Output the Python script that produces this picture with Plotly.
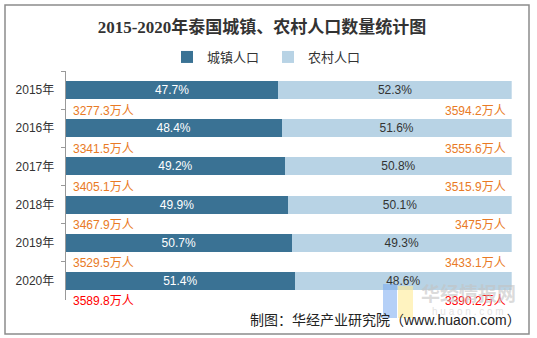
import plotly.graph_objects as go

years = ["2015年", "2016年", "2017年", "2018年", "2019年", "2020年"]
urban_pct = [47.7, 48.4, 49.2, 49.9, 50.7, 51.4]
rural_pct = [52.3, 51.6, 50.8, 50.1, 49.3, 48.6]
urban_pop = ["3277.3", "3341.5", "3405.1", "3467.9", "3529.5", "3589.8"]
rural_pop = ["3594.2", "3555.6", "3515.9", "3475", "3433.1", "3390.2"]

W, H = 537, 338
FONT = "Liberation Sans, Arial, Noto Sans CJK SC"
URBAN = "#3A7294"
RURAL = "#B8D3E5"
ORANGE = "#E97A25"

fig = go.Figure()
fig.add_trace(go.Bar(
    y=years, x=urban_pct, name="城镇人口", orientation="h",
    marker=dict(color=URBAN, line=dict(width=0)), width=0.47,
    text=[f"{v}%" for v in urban_pct], textposition="inside", constraintext="none",
    insidetextanchor="middle", textfont=dict(color="white", size=12, family=FONT),
    hoverinfo="skip",
))
fig.add_trace(go.Bar(
    y=years, x=rural_pct, name="农村人口", orientation="h",
    marker=dict(color=RURAL, line=dict(width=0)), width=0.47,
    text=[f"{v}%" for v in rural_pct], textposition="inside", constraintext="none",
    insidetextanchor="middle", textfont=dict(color="#333333", size=12, family=FONT),
    hoverinfo="skip",
))

anns = []
for i, y in enumerate(years):
    col = "#FF0000" if i == len(years) - 1 else ORANGE
    anns.append(dict(x=0, y=y, xref="x", yref="y", text=f"{urban_pop[i]}万人",
                     showarrow=False, xanchor="left", yanchor="middle",
                     xshift=5, yshift=-20.5, font=dict(size=12, color=col, family=FONT)))
    anns.append(dict(x=100, y=y, xref="x", yref="y", text=f"{rural_pop[i]}万人",
                     showarrow=False, xanchor="right", yanchor="middle",
                     xshift=-4, yshift=-20.5, font=dict(size=12, color=col, family=FONT)))

# watermark
anns.append(dict(x=468 / W, y=1 - 292 / H, xref="paper", yref="paper", text="<b>华经情报网</b>",
                 showarrow=False, xanchor="center", yanchor="middle",
                 font=dict(size=19, color="rgba(195,195,195,0.6)", family="Noto Sans CJK SC")))
anns.append(dict(x=468 / W, y=1 - 311 / H, xref="paper", yref="paper", text="h u a o n . c o m",
                 showarrow=False, xanchor="center", yanchor="middle",
                 font=dict(size=10, color="rgba(205,205,205,0.6)", family=FONT)))
# source
anns.append(dict(x=523 / W, y=1 - 320 / H, xref="paper", yref="paper",
                 text="制图：华经产业研究院（www.huaon.com）",
                 showarrow=False, xanchor="right", yanchor="middle",
                 font=dict(size=14, color="#222222", family=FONT)))

shapes = [
    dict(type="rect", xref="paper", yref="paper", x0=5 / W, x1=529 / W, y0=1 - 334 / H, y1=1 - 5 / H,
         line=dict(color="#8C8C8C", width=1.5), fillcolor="rgba(0,0,0,0)", layer="below"),
    dict(type="rect", xref="paper", yref="paper", x0=383 / W, x1=397 / W, y0=1 - 318 / H, y1=1 - 284 / H,
         line=dict(width=0), fillcolor="rgba(120,170,240,0.55)", layer="above"),
    dict(type="rect", xref="paper", yref="paper", x0=398 / W, x1=413 / W, y0=1 - 318 / H, y1=1 - 286 / H,
         line=dict(width=0), fillcolor="rgba(255,235,150,0.6)", layer="above"),
]

fig.update_layout(
    width=W, height=H, margin=dict(l=0, r=0, t=0, b=0),
    paper_bgcolor="white", plot_bgcolor="white",
    barmode="stack", bargap=0.53,
    title=dict(text="<b>2015-2020年泰国城镇、农村人口数量统计图</b>",
               x=262 / W, xanchor="center", y=1 - 27 / H, yanchor="middle",
               font=dict(size=17, color="#333333", family="Liberation Serif, Noto Sans CJK SC")),
    legend=dict(orientation="h", x=268 / W, xanchor="center", y=1 - 57 / H, yanchor="middle",
                font=dict(size=13, color="#333333", family=FONT), itemwidth=30,
                entrywidth=56, entrywidthmode="pixels",
                traceorder="normal", bgcolor="rgba(0,0,0,0)"),
    xaxis=dict(domain=[65.7 / W, 511.7 / W], range=[0, 100], showgrid=False,
               showticklabels=False, zeroline=False, showline=False, fixedrange=True),
    yaxis=dict(domain=[1 - 300 / H, 1 - 71 / H], type="category", range=[5.5, -0.5],
               autorange=False,
               showgrid=False, showline=True, linecolor="#999999", linewidth=1,
               ticks="outside", ticklen=4, tickcolor="#999999", tickson="boundaries",
               tickfont=dict(size=12, color="#333333", family=FONT), ticklabelstandoff=8),
    annotations=anns, shapes=shapes, showlegend=True,
)

fig.write_html("out.html")
